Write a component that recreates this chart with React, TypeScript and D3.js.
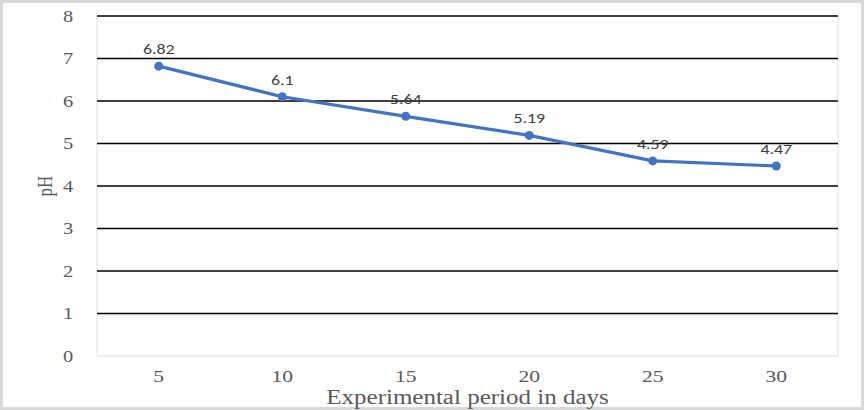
import React from "react";
import * as d3 from "d3";

const categories = ["5", "10", "15", "20", "25", "30"];
const phValues = [6.82, 6.1, 5.64, 5.19, 4.59, 4.47];
const yTicks = [0, 1, 2, 3, 4, 5, 6, 7, 8];

const W = 864;
const H = 410;
const M = { left: 97, right: 26, top: 16, bottom: 54 };
const SX = 1.28;

function SText(props: {
  x: number;
  y: number;
  size: number;
  family: string;
  fill: string;
  sx?: number;
  rotate?: number;
  dy?: string;
  children: React.ReactNode;
}) {
  const { x, y, size, family, fill, sx = SX, rotate = 0, dy = "0.35em", children } = props;
  return (
    <g transform={`translate(${x},${y}) scale(${sx},1) rotate(${rotate})`}>
      <text x={0} y={0} dy={dy} textAnchor="middle" fontFamily={family} fontSize={size} fill={fill}>
        {children}
      </text>
    </g>
  );
}

export default function App() {
  React.useEffect(() => {
    document.body.style.margin = "0";
  }, []);
  const x = d3
    .scaleBand<string>()
    .domain(categories)
    .range([M.left, W - M.right]);
  const y = d3.scaleLinear().domain([0, 8]).range([H - M.bottom, M.top]);
  const cx = (c: string) => (x(c) as number) + x.bandwidth() / 2;
  const pts = categories.map((c, i) => [cx(c), y(phValues[i])] as [number, number]);
  const line = d3.line()(pts) as string;
  const serif = "'Liberation Serif', 'Times New Roman', serif";
  const sans = "Carlito, 'Liberation Sans', 'DejaVu Sans', sans-serif";
  return (
    <svg width={W} height={H} style={{ display: "block" }}>
      <rect x={0} y={0} width={W} height={H} fill="#fff" />
      <rect x={1.5} y={1.5} width={W - 3} height={H - 3} fill="none" stroke="#d9d9d9" strokeWidth={3} />
      <line x1={M.left} x2={M.left} y1={M.top} y2={H - M.bottom} stroke="#e0e0e0" strokeWidth={1} />
      <line x1={W - M.right} x2={W - M.right} y1={M.top} y2={H - M.bottom} stroke="#e0e0e0" strokeWidth={1} />
      <line x1={M.left} x2={W - M.right} y1={H - M.bottom} y2={H - M.bottom} stroke="#d9d9d9" strokeWidth={1} />
      {yTicks.filter((t) => t > 0).map((t) => (
        <line key={t} x1={M.left} x2={W - M.right} y1={y(t)} y2={y(t)} stroke="#000" strokeWidth={1.3} />
      ))}
      {yTicks.map((t) => (
        <SText key={t} x={68} y={y(t)} size={16} family={serif} fill="#595959">
          {t}
        </SText>
      ))}
      {categories.map((c) => (
        <SText key={c} x={cx(c)} y={376} size={16} family={serif} fill="#595959" sx={1.35}>
          {c}
        </SText>
      ))}
      <path d={line} fill="none" stroke="#4472C4" strokeWidth={3.2} strokeLinejoin="round" />
      {pts.map((p, i) => (
        <circle key={i} cx={p[0]} cy={p[1]} r={4.5} fill="#4472C4" />
      ))}
      {pts.map((p, i) => (
        <SText key={i} x={p[0]} y={p[1] - 12} dy="0" size={14} family={sans} fill="#404040" sx={1.28}>
          {phValues[i]}
        </SText>
      ))}
      <SText x={45} y={(M.top + H - M.bottom) / 2} size={17} family={serif} fill="#595959" rotate={-90} sx={1.25}>
        pH
      </SText>
      <SText x={(M.left + W - M.right) / 2} y={397} size={20} family={serif} fill="#595959" sx={1.25}>
        Experimental period in days
      </SText>
    </svg>
  );
}
